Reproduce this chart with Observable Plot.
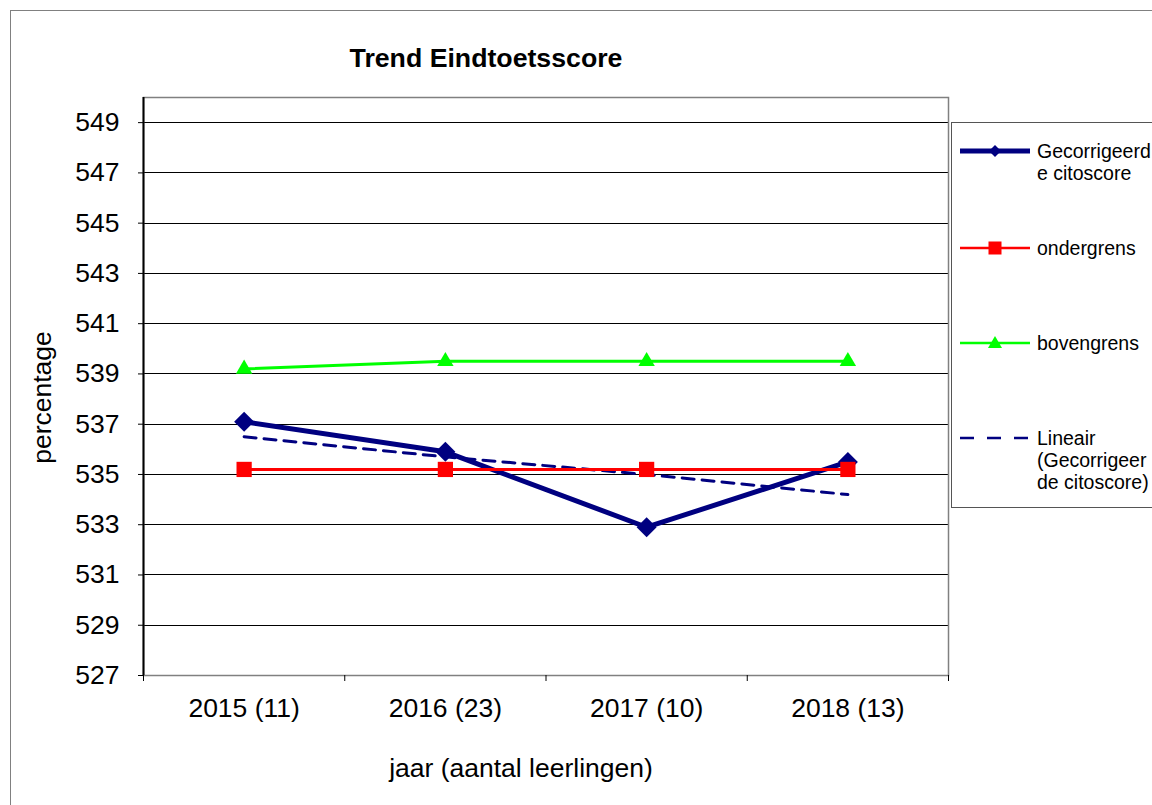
<!DOCTYPE html>
<html><head><meta charset="utf-8">
<script src="https://cdn.jsdelivr.net/npm/d3@7"></script>
<script src="https://cdn.jsdelivr.net/npm/@observablehq/plot@0.6"></script>
<style>
body{margin:0;background:#fff;font-family:"Liberation Sans",Arial,sans-serif;}
#wrap{position:relative;width:1152px;height:805px;overflow:hidden;background:#fff;}
#wrap > svg.chart{position:absolute;left:0;top:0;}
.border{position:absolute;left:10px;top:10px;width:1300px;height:1000px;border:1.5px solid #808080;}
.title{position:absolute;left:236px;width:500px;top:43px;line-height:30px;text-align:center;font-weight:bold;font-size:26.7px;color:#000;}
.legend{position:absolute;left:951px;top:122px;width:400px;height:384px;border:1.5px solid #555;background:#fff;}
.lg-item{position:absolute;left:1037px;font-size:19.5px;line-height:22px;color:#000;white-space:nowrap;}
#wrap > svg.lg-sample{position:absolute;left:956px;width:80px;height:22px;}
</style></head>
<body><div id="wrap"><div class="border"></div></div>
<script>
// ---- data ----
const years = ["2015 (11)", "2016 (23)", "2017 (10)", "2018 (13)"];
const gecorrigeerd = [537.1, 535.9, 532.9, 535.5];
const ondergrens = [535.2, 535.2, 535.2, 535.2];
const bovengrens = [539.2, 539.5, 539.5, 539.5];
const lineair = [536.5, 535.7, 535.0, 534.2];
const yTicks = [527, 529, 531, 533, 535, 537, 539, 541, 543, 545, 547, 549];
const title = "Trend Eindtoetsscore";
const xLabel = "jaar (aantal leerlingen)";
const yLabel = "percentage";
const seriesNames = ["Gecorrigeerd\ne citoscore", "ondergrens", "bovengrens", "Lineair\n(Gecorrigeer\nde citoscore)"];

const idx = years.map((d, i) => i);
const boundaries = [-0.5, ...idx.map(i => i + 0.5)];
const rows = (vals) => vals.map((v, i) => ({i, v}));

const navy = "#000080", red = "#ff0000", green = "#00ff00";

const chart = Plot.plot({
  width: 1152, height: 805,
  marginLeft: 143, marginRight: 204, marginTop: 97, marginBottom: 130,
  className: "chart",
  style: {background: "transparent", fontFamily: "Liberation Sans, Arial, sans-serif", fontSize: "26.5px", color: "#000", overflow: "visible"},
  x: {type: "linear", domain: [-0.5, 3.5], axis: null},
  y: {domain: [527, 550], axis: null},
  marks: [
    Plot.ruleY(yTicks, {stroke: "#000", strokeWidth: 1, shapeRendering: "crispEdges"}),
    Plot.frame({stroke: "#808080", strokeWidth: 1.5}),
    Plot.ruleX([-0.5], {stroke: "#000", strokeWidth: 2}),
    Plot.axisY(yTicks, {anchor: "left", tickSize: 5, tickPadding: 19, stroke: "#000", label: null}),
    Plot.axisX(boundaries, {anchor: "bottom", tickSize: 6, tickFormat: () => "", stroke: "#000", label: null}),
    Plot.axisX(idx, {anchor: "bottom", tickSize: 0, tickPadding: 23, tickFormat: i => years[i], label: null}),
    Plot.text([yLabel], {text: d => d, frameAnchor: "left", rotate: -90, textAnchor: "middle", lineAnchor: "middle", dx: -101, dy: 11}),
    Plot.text([xLabel], {text: d => d, frameAnchor: "bottom", textAnchor: "middle", lineAnchor: "middle", dx: -25, dy: 93}),
    Plot.line(rows(lineair), {x: "i", y: "v", stroke: navy, strokeWidth: 3, strokeDasharray: "12,8"}),
    Plot.line(rows(gecorrigeerd), {x: "i", y: "v", stroke: navy, strokeWidth: 5}),
    Plot.dot(rows(gecorrigeerd), {x: "i", y: "v", symbol: "diamond2", r: 9, fill: navy}),
    Plot.line(rows(ondergrens), {x: "i", y: "v", stroke: red, strokeWidth: 3}),
    Plot.dot(rows(ondergrens), {x: "i", y: "v", symbol: "square", r: 8.6, fill: red}),
    Plot.line(rows(bovengrens), {x: "i", y: "v", stroke: green, strokeWidth: 3}),
    Plot.dot(rows(bovengrens), {x: "i", y: "v", symbol: "triangle", r: 6.1, fill: green})
  ]
});
chart.classList.add("chart");
const wrap = document.getElementById("wrap");
wrap.insertBefore(chart, wrap.firstChild);

// title
const t = document.createElement("div");
t.className = "title"; t.textContent = title; wrap.appendChild(t);

// legend
const lg = document.createElement("div"); lg.className = "legend"; wrap.appendChild(lg);
const legendTops = [140, 237, 332, 427];
const samples = [
  `<line x1="4" x2="74" y1="11" y2="11" stroke="${navy}" stroke-width="5"/><path d="M39,5 L45,11 L39,17 L33,11 Z" fill="${navy}"/>`,
  `<line x1="4" x2="74" y1="11" y2="11" stroke="${red}" stroke-width="2.5"/><rect x="32.5" y="4.5" width="13" height="13" fill="${red}"/>`,
  `<line x1="4" x2="74" y1="11" y2="11" stroke="${green}" stroke-width="2.5"/><path d="M39,4 L46,16 L32,16 Z" fill="${green}"/>`,
  `<line x1="4" x2="74" y1="11" y2="11" stroke="${navy}" stroke-width="2.5" stroke-dasharray="14,13"/>`
];
seriesNames.forEach((name, k) => {
  const s = document.createElementNS("http://www.w3.org/2000/svg", "svg");
  s.setAttribute("class", "lg-sample"); s.setAttribute("width", 80); s.setAttribute("height", 22);
  s.style.top = legendTops[k] + "px";
  s.innerHTML = samples[k];
  wrap.appendChild(s);
  const d = document.createElement("div");
  d.className = "lg-item"; d.style.top = legendTops[k] + "px";
  d.innerHTML = name.split("\n").map(x => x.replace(/&/g, "&amp;").replace(/</g, "&lt;")).join("<br>");
  wrap.appendChild(d);
});
</script>
</body></html>
